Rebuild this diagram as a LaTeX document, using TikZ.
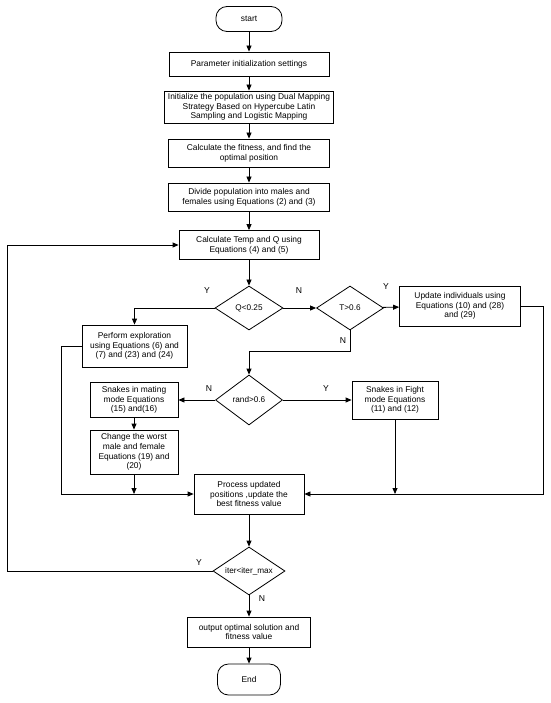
\documentclass[tikz,border=0pt]{standalone}
\usepackage{fontspec}
\setmainfont{Liberation Sans}
\usetikzlibrary{arrows.meta,shapes.geometric}
\begin{document}
\begin{tikzpicture}[x=1pt,y=-1pt,
  box/.style={draw, line width=0.8pt, align=center, inner sep=1pt, font=\fontsize{8.4}{9.8}\selectfont},
  term/.style={box, rounded corners=11pt},
  dec/.style={draw, diamond, aspect=1.5, inner sep=0pt, line width=0.8pt, font=\fontsize{8.2}{9.8}\selectfont},
  arr/.style={draw, line width=0.8pt, -{Triangle[length=6pt,width=5pt]}},
  lbl/.style={font=\fontsize{8.6}{10}\selectfont, inner sep=0pt}]
\useasboundingbox (0,0) rectangle (550,703);

\node[term, minimum width=66pt, minimum height=25pt] (start) at (249,19) {start};
\node[box, minimum width=160pt, minimum height=24pt] (param) at (249,64) {Parameter initialization settings};
\node[box, minimum width=169pt, minimum height=32pt] (init) at (249,107) {Initialize the population using Dual Mapping\\Strategy Based on Hypercube Latin\\Sampling and Logistic Mapping};
\node[box, minimum width=161pt, minimum height=28pt] (calc) at (249,153) {Calculate the fitness, and find the\\optimal position};
\node[box, minimum width=161pt, minimum height=28pt] (divide) at (249,197) {Divide population into males and\\females using Equations (2) and (3)};
\node[box, minimum width=140pt, minimum height=29pt] (temp) at (249,245) {Calculate Temp and Q using\\Equations (4) and (5)};
\node[dec, minimum width=68pt, minimum height=44pt] (Q) at (249,308) {Q<0.25};
\node[dec, minimum width=67pt, minimum height=44pt] (T) at (350,308) {T>0.6};
\node[box, minimum width=121pt, minimum height=40pt] (update) at (460,306) {Update individuals using\\Equations (10) and (28)\\and (29)};
\node[box, minimum width=105pt, minimum height=42pt] (perform) at (134.5,346) {Perform exploration\\using Equations (6) and\\(7) and (23) and (24)};
\node[dec, minimum width=67pt, minimum height=50pt] (rand) at (249,400) {rand>0.6};
\node[box, minimum width=88pt, minimum height=35pt] (mating) at (134,400) {Snakes in mating\\mode Equations\\(15) and(16)};
\node[box, minimum width=86pt, minimum height=38pt] (fight) at (395,400) {Snakes in Fight\\mode Equations\\(11) and (12)};
\node[box, minimum width=88pt, minimum height=44pt] (change) at (134,452) {Change the worst\\male and female\\Equations (19) and\\(20)};
\node[box, minimum width=110pt, minimum height=40pt] (process) at (249,494) {Process updated\\positions ,update the\\best fitness value};
\node[dec, minimum width=72pt, minimum height=48pt] (iter) at (249,571) {iter<iter\_max};
\node[box, minimum width=123pt, minimum height=30pt] (output) at (249,632) {output optimal solution and\\fitness value};
\node[term, minimum width=63pt, minimum height=31pt] (stop) at (249,679.5) {End};

% labels
\node[lbl] (yq) at (207,291) {Y};
\node[lbl] (nq) at (299,291) {N};
\node[lbl] (yt) at (386,287) {Y};
\node[lbl] (nt) at (343,341) {N};
\node[lbl] (nr) at (209,389) {N};
\node[lbl] (yr) at (326,389) {Y};
\node[lbl] (yi) at (199,563) {Y};
\node[lbl] (ni) at (262,599) {N};

\coordinate (tj) at (350,351);
\coordinate (pc) at (61,346);
\coordinate (rc) at (543,306);
\coordinate (lc) at (7,571);

\draw[arr] (start) -- (param);
\draw[arr] (param) -- (init);
\draw[arr] (init) -- (calc);
\draw[arr] (calc) -- (divide);
\draw[arr] (divide) -- (temp);
\draw[arr] (temp) -- (Q);
\draw[arr] (Q) -- (T);
\draw[arr] (T) -- (update);
\draw[arr] (Q.west) -| (perform.north);
\draw[arr] (T.south) -- (tj) -| (rand.north);
\draw[arr] (rand) -- (mating);
\draw[arr] (rand) -- (fight);
\draw[arr] (mating) -- (change);
\draw[arr] (perform.west) -- (pc) |- (process.west);
\draw[arr] (change.south) -- (change.south |- process.west);
\draw[arr] (fight.south) -- (fight.south |- process.east);
\draw[arr] (update.east) -- (rc) |- (process.east);
\draw[arr] (process) -- (iter);
\draw[arr] (iter.west) -- (lc) |- (temp.west);
\draw[arr] (iter) -- (output);
\draw[arr] (output) -- (stop);
\end{tikzpicture}
\end{document}
